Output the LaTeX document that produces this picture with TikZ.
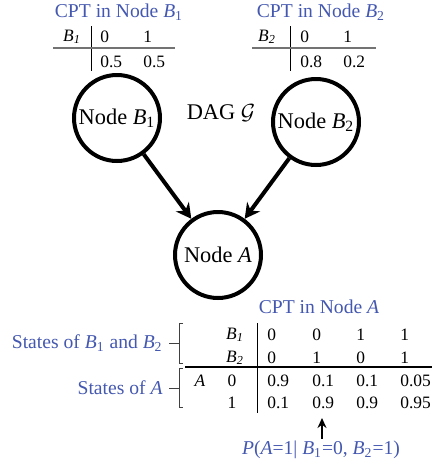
\documentclass[tikz,border=0pt]{standalone}
\usepackage{fontspec}
\setmainfont{Liberation Serif}
\usetikzlibrary{arrows.meta}
\definecolor{cptblue}{RGB}{68,88,176}
\newcommand{\iv}[1]{\textit{#1}}
\newcommand{\ivs}[2]{\textit{#1}\textsubscript{#2}}
\newcommand{\ivi}[2]{\textit{#1\textsubscript{#2}}}
\tikzset{
  state/.style={circle, draw, line width=2pt, minimum size=43pt, inner sep=0pt, font=\fontsize{11.2}{13}\selectfont},
  cpttitle/.style={text=cptblue, inner sep=0pt, font=\fontsize{9.8}{12}\selectfont},
  cell/.style={inner sep=0pt, font=\fontsize{8.7}{10}\selectfont},
  lcell/.style={cell, anchor=west},
  link/.style={line width=2pt, -{Stealth[length=7.5pt,width=8pt]}},
  hrule/.style={line width=0.8pt, black!55},
  vrule/.style={line width=0.5pt, black},
  bracket/.style={line width=0.5pt, black!75},
}

\begin{document}
\begin{tikzpicture}[x=0.5pt, y=-0.5pt]
  \useasboundingbox (0,0) rectangle (432,467);
  %%%%% START %%%%%
  % DAG
  \node[state] (b1) at (117,118) {Node \ivs{B}{1}};
  \node[state] (b2) at (316,122) {Node \ivs{B}{2}};
  \node[state] (a) at (218,255) {Node \iv{A}};
  \node[inner sep=0pt, font=\fontsize{11.2}{13}\selectfont] (dag) at (221,113) {DAG $\mathcal{G}$};
  \draw[link] (b1) -- (a);
  \draw[link] (b2) -- (a);

  % CPT in node B1
  \node[cpttitle] (t1) at (119,12) {CPT in Node \ivs{B}{1}};
  \node[cell] (h1) at (72,37) {\ivi{B}{1}};
  \node[lcell] at (100,37) {0};
  \node[lcell] at (143,37) {1};
  \node[lcell] at (100,62) {0.5};
  \node[lcell] at (143,62) {0.5};
  \draw[vrule] (91,26) -- (91,71);
  \draw[hrule] (53,48) -- (175,48);

  % CPT in node B2
  \node[cpttitle] (t2) at (321,12) {CPT in Node \ivs{B}{2}};
  \node[cell] (h2) at (267,37) {\ivi{B}{2}};
  \node[lcell] at (300,37) {0};
  \node[lcell] at (343,37) {1};
  \node[lcell] at (300,62) {0.8};
  \node[lcell] at (343,62) {0.2};
  \draw[vrule] (290,26) -- (290,71);
  \draw[hrule] (252,48) -- (376,48);

  % CPT in node A
  \node[cpttitle] (t3) at (319,307) {CPT in Node \iv{A}};
  \node[cell] at (235,335) {\ivi{B}{1}};
  \node[cell] at (235,358) {\ivi{B}{2}};
  \node[cell] at (200,381) {\iv{A}};
  \node[cell] at (232,381) {0};
  \node[cell] at (232,403) {1};
  \foreach \x/\p/\q/\r/\s in {267/0/0/0.9/0.1, 312/0/1/0.1/0.9, 356/1/0/0.1/0.9, 400/1/1/0.05/0.95} {
    \node[lcell] at (\x,335) {\p};
    \node[lcell] at (\x,358) {\q};
    \node[lcell] at (\x,381) {\r};
    \node[lcell] at (\x,403) {\s};
  }
  \draw[vrule] (257,323) -- (257,413);
  \draw[hrule, black] (185,367) -- (432,367);

  % brackets
  \draw[bracket] (183,323) -- (179,323) -- (179,363) -- (183,363);
  \draw[bracket] (179,343) -- (169,343);
  \draw[bracket] (183,368) -- (179,368) -- (179,407) -- (183,407);
  \draw[bracket] (179,388) -- (169,388);
  \node[cpttitle, anchor=east] (sb) at (163,343) {States of \ivs{B}{1} and \ivs{B}{2}};
  \node[cpttitle, anchor=east] (sa) at (163,388) {States of \iv{A}};

  % conditional probability
  \node[cpttitle] (plab) at (321,450) {\iv{P}(\iv{A}=1| \ivs{B}{1}=0, \ivs{B}{2}=1)};
  \coordinate (ptip) at (322,418);
  \draw[line width=0.7pt, -{Stealth[length=5pt,width=4.5pt]}] (plab.north -| ptip) ++(0,-2) -- (ptip);
  %%%%% END %%%%%
\end{tikzpicture}
\end{document}
